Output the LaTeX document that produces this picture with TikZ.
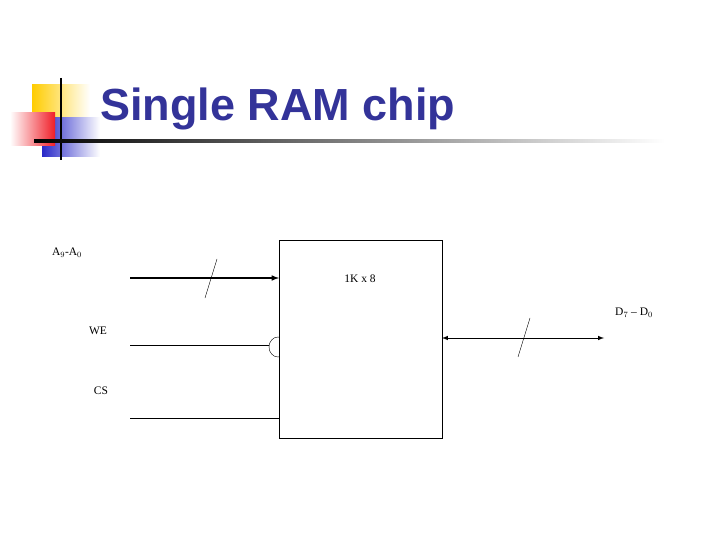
\documentclass[tikz,border=0pt]{standalone}
\usepackage{fontspec}
\setmainfont{Liberation Serif}
\newfontfamily\titlefont{Liberation Sans}
\definecolor{ttlblue}{RGB}{51, 51, 153}
\definecolor{logoyellow}{RGB}{255, 204, 0}
\definecolor{logored}{RGB}{240, 30, 40}
\definecolor{logoblue}{RGB}{40, 40, 200}
\begin{document}
\begin{tikzpicture}[x=1pt,y=-1pt]
\tikzset{sig/.style={font=\fontsize{11.5}{13}\selectfont}}
\useasboundingbox (0,0) rectangle (720,540);
% Logo
\shade[left color=logoyellow, right color=white] (32,85) rectangle (90,120);
\shade[left color=logoblue, right color=white] (42,118) rectangle (100,157);
\shade[left color=white, right color=logored] (10,113) rectangle (55,146);
\draw[line width=2pt] (61,78) -- (61,160);
\shade[left color=black, right color=white] (34,140) rectangle (665,142.5);
\node[anchor=base west, text=ttlblue, font=\titlefont\bfseries\fontsize{45}{48}\selectfont, inner sep=0] (title) at (100,121) {Single RAM chip};
% Chip
\draw (279,240) rectangle (442,438);
\node[sig] (chip) at (360,279) {1K x 8};
% Address bus
\coordinate (ain) at (130,278);
\coordinate (aend) at (279,278);
\draw[line width=1.5pt, -latex] (ain) -- (aend);
\draw (205,298) -- (217,259);
\node[sig] (alab) at (67,253) {A$_9$-A$_0$};
% Write enable
\coordinate (wein) at (130,345);
\coordinate (weend) at (269,345);
\draw (wein) -- (weend);
\begin{scope}
\clip (260,330) rectangle (279,365);
\draw (278,347) ellipse [x radius=9, y radius=10];
\end{scope}
\node[sig] (welab) at (98,331) {WE};
% Chip select
\coordinate (csin) at (130,418);
\coordinate (csend) at (279,418);
\draw (csin) -- (csend);
\node[sig] (cslab) at (101,391) {CS};
% Data bus
\coordinate (dbeg) at (442,338);
\coordinate (dend) at (604,338);
\draw[line width=1pt, latex-latex] (dbeg) -- (dend);
\draw (518,357) -- (530,318);
\node[sig] (dlab) at (634,313) {D$_7$ -- D$_0$};
\end{tikzpicture}
\end{document}
